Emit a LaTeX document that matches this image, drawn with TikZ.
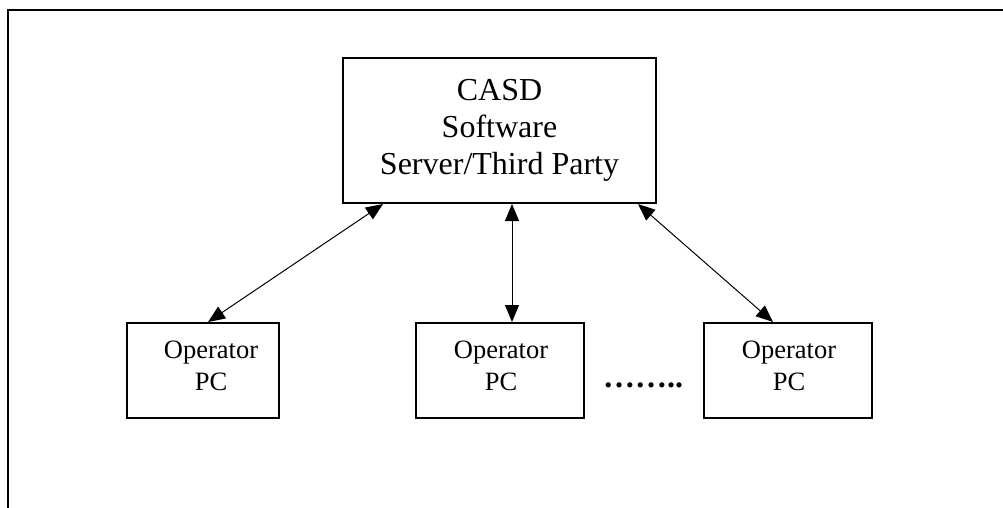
\documentclass[tikz,border=0pt]{standalone}
\usepackage{fontspec}
\setmainfont{Liberation Serif}
\usetikzlibrary{arrows.meta}
\begin{document}
\begin{tikzpicture}[x=1pt,y=-1pt,
  frame/.style={line width=2.2pt},
  srvbox/.style={draw,line width=2pt,minimum width=313pt,minimum height=145pt,inner sep=0pt,align=center,font=\fontsize{32}{37}\selectfont},
  pcbox/.style={draw,line width=2pt,minimum width=168pt,minimum height=95pt,inner sep=0pt,align=center,font=\fontsize{26.5}{32}\selectfont},
  pctext/.style={align=center,font=\fontsize{26.5}{32}\selectfont,inner sep=0pt},
  link/.style={line width=1pt,{Triangle[length=17pt,width=14pt]}-{Triangle[length=17pt,width=14pt]}}]
\useasboundingbox (0,0) rectangle (1003,508);
\coordinate (fTop) at (1003,10);
\coordinate (fCorner) at (8,10);
\coordinate (fBottom) at (8,508);
\draw[frame] (fTop) -- (fCorner) -- (fBottom);
\node[srvbox] (srv) at (499.5,130.5) {CASD\\Software\\Server/Third Party};
\node[pcbox,minimum width=152pt] (pc1) at (203,370.5) {};
\node[pcbox] (pc2) at (500,370.5) {};
\node[pcbox] (pc3) at (788,370.5) {};
\node[pctext] (t1) at (211,366) {Operator\\PC};
\node[pctext] (t2) at (501,366) {Operator\\PC};
\node[pctext] (t3) at (789,366) {Operator\\PC};
\node[font=\fontsize{32}{36}\selectfont\bfseries] (dots) at (643,385) {……..};
\draw[link] (srv.south -| 383,0) -- (pc1.north -| 208,0);
\draw[link] (srv.south -| 512,0) -- (pc2.north -| 512,0);
\draw[link] (srv.south -| 638,0) -- (pc3.north -| 773,0);
\end{tikzpicture}
\end{document}
